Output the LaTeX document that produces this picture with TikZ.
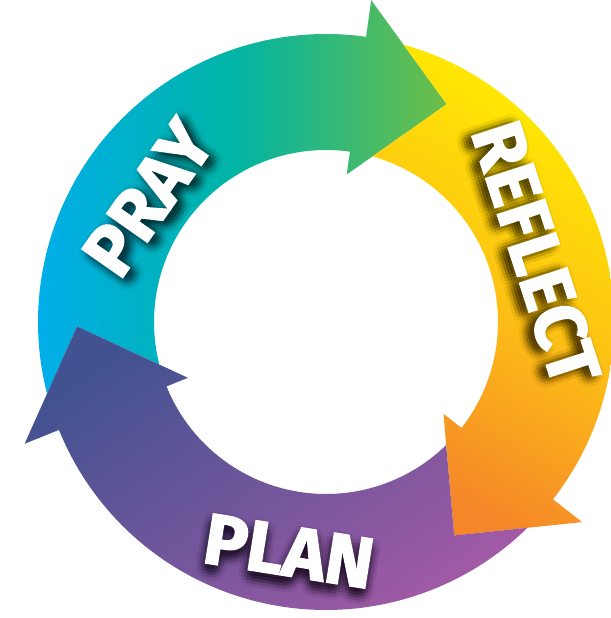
\documentclass[tikz,border=0pt]{standalone}
\usepackage{fontspec}
\newfontfamily\cyclefont{Fira Sans}[BoldFeatures={FakeBold=2}]

\definecolor{prayblue}{RGB}{0,174,239}
\definecolor{prayteal}{RGB}{0,180,165}
\definecolor{praygreen}{RGB}{110,190,70}
\definecolor{reflectyellow}{RGB}{255,237,0}
\definecolor{reflectgold}{RGB}{253,195,20}
\definecolor{reflectorange}{RGB}{245,135,40}
\definecolor{plannavy}{RGB}{66,82,145}
\definecolor{planviolet}{RGB}{112,86,155}
\definecolor{planpurple}{RGB}{162,90,166}

\begin{document}
\begin{tikzpicture}[x=1pt, y=1pt]
	\tikzstyle{word} = [text=white, inner sep=0pt, font=\cyclefont\bfseries\fontsize{72}{72}\selectfont]
	\tikzstyle{blur} = [word, text=black]

	\useasboundingbox (-326,-296) rectangle (284,322);

	\foreach \b/\ctop/\cmid/\cbot/\sa in {82/prayblue/prayteal/praygreen/90, -38/reflectyellow/reflectgold/reflectorange/-30, 202/plannavy/planviolet/planpurple/35}
		\shade[top color=\ctop, bottom color=\cbot, middle color=\cmid, shading angle=\sa]
			(\b+112.4:288) arc[start angle=\b+112.4, end angle=\b, radius=288]
			-- (\b:325) -- (\b-21:249) -- (\b:149) -- (\b:172)
			arc[start angle=\b, end angle=\b+112.3, radius=172]
			-- (\b+99:249) -- cycle;

	\foreach \word/\x/\y/\rot in {PRAY/-178/124/55, REFLECT/210/69/-72, PLAN/-37/-229/-9} {
		\begin{scope}[shift={(\x,\y)}, rotate=\rot, transform shape]
			\begin{scope}[yshift=-7pt]
				\foreach \r/\n/\op in {0/1/0.06, 3/8/0.045, 6/12/0.03, 9/16/0.015}
					\foreach \k in {1,...,\n}
						\node[blur, opacity=\op] (\word-\r-\k) at (\k*360/\n:\r) {\word};
			\end{scope}
			\node[word] (\word) at (0,0) {\word};
		\end{scope}
	}
\end{tikzpicture}
\end{document}
